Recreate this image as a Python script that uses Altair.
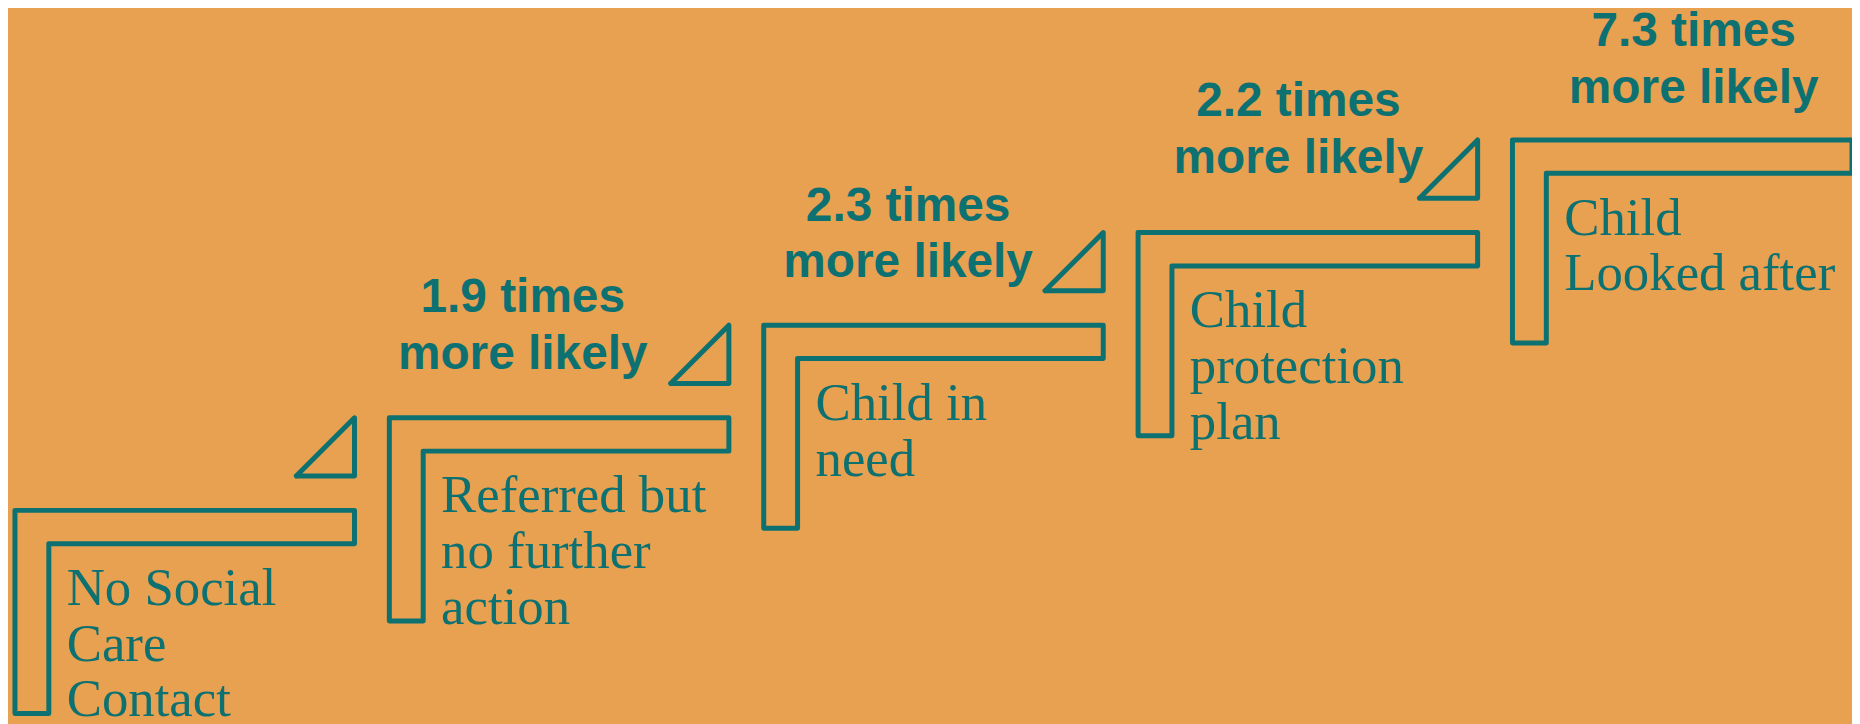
import altair as alt
import pandas as pd

# ---- data ----
stages = [
    "No Social\nCare\nContact",
    "Referred but\nno further\naction",
    "Child in\nneed",
    "Child\nprotection\nplan",
    "Child\nLooked after",
]
multipliers = [None, 1.9, 2.3, 2.2, 7.3]

# ---- layout (reference pixel space) ----
BG = "#E8A051"
TEAL = "#0D7171"
W, H = 1860, 724
STEP_X0, STEP_DX = 15, 376
STEP_Y0, STEP_DY = 511, 93
L_W, L_H, ARM_H, ARM_W = 341, 204, 33.5, 34
TRI, TRI_GAP = 58.5, 34.5
LABEL_DX, LABEL_DY = 18, 95
ANN_DX = [0, 134, 145, 161, 182]
ANN_DY = [0, -106, -105, -117, -94]

shape_rows, label_rows, ann_rows = [], [], []
for i, name in enumerate(stages):
    x0 = STEP_X0 + STEP_DX * i
    y0 = STEP_Y0 - STEP_DY * i
    pts = [(x0, y0), (x0 + L_W, y0), (x0 + L_W, y0 + ARM_H), (x0 + ARM_W, y0 + ARM_H),
           (x0 + ARM_W, y0 + L_H), (x0, y0 + L_H), (x0, y0)]
    for k, (px, py) in enumerate(pts):
        shape_rows.append({"shape": f"L{i}", "o": k, "x": px, "y": py})
    if i < len(stages) - 1:
        r = x0 + L_W
        b = y0 - TRI_GAP
        tpts = [(r - TRI, b), (r, b - TRI), (r, b), (r - TRI, b)]
        for k, (px, py) in enumerate(tpts):
            shape_rows.append({"shape": f"T{i}", "o": k, "x": px, "y": py})
    label_rows.append({"x": x0 + ARM_W + LABEL_DX, "y": y0 + LABEL_DY, "text": name})
    if multipliers[i] is not None:
        ann_rows.append({"x": x0 + ANN_DX[i], "y": y0 + ANN_DY[i],
                         "text": f"{multipliers[i]} times\nmore likely"})

shapes = pd.DataFrame(shape_rows)
labels = pd.DataFrame(label_rows)
anns = pd.DataFrame(ann_rows)

xs = alt.Scale(domain=[8, W], nice=False, zero=False)
ys = alt.Scale(domain=[8, H], nice=False, zero=False, reverse=True)

lines = alt.Chart(shapes).mark_line(
    color=TEAL, strokeWidth=5, strokeJoin="round", strokeCap="round"
).encode(
    x=alt.X("x:Q", scale=xs, axis=None),
    y=alt.Y("y:Q", scale=ys, axis=None),
    detail="shape:N",
    order="o:Q",
)

label_text = alt.Chart(labels).mark_text(
    align="left", baseline="alphabetic", font="Liberation Serif",
    fontSize=53, lineHeight=56, lineBreak="\n", color=TEAL
).encode(
    x=alt.X("x:Q", scale=xs, axis=None),
    y=alt.Y("y:Q", scale=ys, axis=None),
    text="text:N",
)

ann_text = alt.Chart(anns).mark_text(
    align="center", baseline="alphabetic", font="Liberation Sans",
    fontWeight="bold", fontSize=48, lineHeight=57, lineBreak="\n", color=TEAL
).encode(
    x=alt.X("x:Q", scale=xs, axis=None),
    y=alt.Y("y:Q", scale=ys, axis=None),
    text="text:N",
)

chart = alt.layer(lines, label_text, ann_text).properties(
    width=W - 8, height=H - 8, padding=0, background=BG,
    autosize=alt.AutoSizeParams(type="none"),
).configure_view(stroke=None)

chart.save("out.html", embed_options={"renderer": "svg", "actions": False})
